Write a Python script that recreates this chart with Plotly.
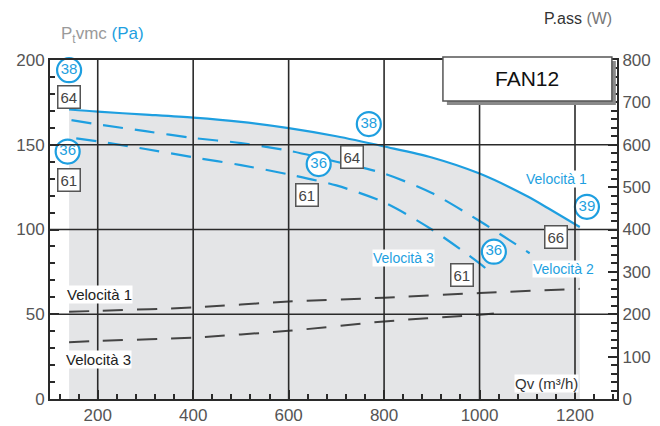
import plotly.graph_objects as go

# ---- data ----
qv_v1 = [140, 200, 300, 400, 500, 600, 700, 800, 900, 1000, 1100, 1150, 1210]
pt_v1 = [170.8, 169.5, 167.8, 166, 163.5, 159.8, 155, 149, 142.5, 133, 119.6, 111.5, 101.5]
qv_v2 = [145, 200, 300, 400, 500, 600, 700, 800, 900, 1000, 1050, 1105]
pt_v2 = [164.5, 162, 158, 154, 151, 146.5, 140, 133, 121.5, 105, 96, 86]
qv_v3 = [155, 200, 300, 400, 500, 600, 700, 800, 900, 1000, 1030]
pt_v3 = [153.8, 152, 147.5, 142.6, 138, 132.5, 126, 116, 100, 80, 73]
qv_p1 = [140, 200, 400, 600, 800, 1000, 1210]
w_p1 = [206, 208, 216, 230, 239, 250, 260]
qv_p3 = [140, 200, 400, 600, 800, 1000, 1030]
w_p3 = [134, 137, 145, 161, 183, 199, 202]

x_ticks = [200, 400, 600, 800, 1000, 1200]
y_ticks = [0, 50, 100, 150, 200]
y2_ticks = [0, 100, 200, 300, 400, 500, 600, 700, 800]

noise_circle_vals = ["38", "36", "38", "36", "36", "39"]
noise_circle_x = [140, 137, 768, 663, 1030, 1225]
noise_circle_y = [194, 146, 162.2, 138.6, 86.9, 113.4]
power_box_vals = ["64", "61", "64", "61", "61", "66"]
power_box_x = [140, 140, 733, 639, 964, 1161]
power_box_y = [178.3, 129.2, 142.6, 120.4, 73.2, 95.4]

BLUE = "#1e9fe0"
GRID = "#2a2a2a"
FONT = "Liberation Sans, Arial, sans-serif"

fig = go.Figure()

# shaded area under velocity 1 + solid line
fig.add_trace(go.Scatter(x=qv_v1, y=pt_v1, mode="lines", fill="tozeroy",
                         fillcolor="#e4e5e7",
                         line=dict(color=BLUE, width=2.2, shape="spline", smoothing=0.8),
                         hoverinfo="skip"))
fig.add_trace(go.Scatter(x=qv_v2, y=pt_v2, mode="lines",
                         line=dict(color=BLUE, width=2.2, dash="20px,12px",
                                   shape="spline", smoothing=0.8)))
fig.add_trace(go.Scatter(x=qv_v3, y=pt_v3, mode="lines",
                         line=dict(color=BLUE, width=2.2, dash="20px,12px",
                                   shape="spline", smoothing=0.8)))
fig.add_trace(go.Scatter(x=qv_p1, y=w_p1, mode="lines", yaxis="y2",
                         line=dict(color="#444444", width=2, dash="20px,14px",
                                   shape="spline", smoothing=0.8)))
fig.add_trace(go.Scatter(x=qv_p3, y=w_p3, mode="lines", yaxis="y2",
                         line=dict(color="#444444", width=2, dash="20px,14px",
                                   shape="spline", smoothing=0.8)))

# grid lines drawn above the shaded area
for xv in x_ticks:
    fig.add_shape(type="line", xref="x", yref="y", x0=xv, x1=xv, y0=0, y1=200,
                  line=dict(color=GRID, width=1.6), layer="above")
for yv in [50, 100, 150]:
    fig.add_shape(type="line", xref="x", yref="y", x0=100, x1=1288, y0=yv, y1=yv,
                  line=dict(color=GRID, width=1.6), layer="above")

# FAN12 box with shadow
fig.add_shape(type="rect", xref="paper", yref="paper", x0=0.700, x1=0.998,
              y0=0.867, y1=0.997, fillcolor="#8a8a8a", line=dict(width=0), layer="above")
fig.add_shape(type="rect", xref="paper", yref="paper", x0=0.693, x1=0.991,
              y0=0.879, y1=1.009, fillcolor="white",
              line=dict(color="#555555", width=1.5), layer="above")

# noise circles
fig.add_trace(go.Scatter(x=noise_circle_x, y=noise_circle_y, mode="markers+text",
                         text=noise_circle_vals, textposition="middle center",
                         textfont=dict(color=BLUE, size=15, family=FONT),
                         marker=dict(size=24, color="white",
                                     line=dict(color=BLUE, width=2.2)),
                         cliponaxis=False))

annotations = []
for v, xv, yv in zip(power_box_vals, power_box_x, power_box_y):
    annotations.append(dict(x=xv, y=yv, xref="x", yref="y", text=v, showarrow=False,
                            font=dict(size=15, color="#444444", family=FONT),
                            bgcolor="white", bordercolor="#555555", borderwidth=1.5,
                            borderpad=2))

def lab(text, x, y, color, size=14, xref="x", yref="y", xanchor="center", bg="white"):
    d = dict(x=x, y=y, xref=xref, yref=yref, text=text, showarrow=False,
             xanchor=xanchor, yanchor="middle",
             font=dict(size=size, color=color, family=FONT), borderpad=0)
    if bg:
        d["bgcolor"] = bg
    return d

annotations += [
    lab("Velocità 1", 1162, 130, BLUE, 14),
    lab("Velocità 3", 841, 83, BLUE, 14),
    lab("Velocità 2", 1175, 76.7, BLUE, 14),
    lab("Velocità 1", 203, 61.8, "#222222", 15),
    lab("Velocità 3", 202, 23.6, "#222222", 15),
    lab("Qv (m³/h)", 0.818, 0.047, "#333333", 15, "paper", "paper", "left"),
    lab("FAN12", 0.842, 0.944, "#111111", 21, "paper", "paper", "center", None),
    lab("P<sub>t</sub>vmc <span style='color:%s'>(Pa)</span>" % BLUE,
        0.018, 1.075, "#9a9a9a", 17, "paper", "paper", "left", None),
    lab("P.ass <span style='color:#777777'>(W)</span>", 0.869, 1.121, "#333333", 16,
        "paper", "paper", "left", None),
]

tickfont = dict(size=17, color="#555555", family=FONT)
# page body has an 8px margin, so the figure is 652x418 to fill the 660x426 window
fig.update_layout(
    width=652, height=418,
    margin=dict(l=42, r=43, t=52, b=27, autoexpand=False),
    paper_bgcolor="white", plot_bgcolor="white",
    showlegend=False,
    font=dict(family=FONT),
    annotations=annotations,
    xaxis=dict(range=[100, 1288], tickvals=x_ticks, showgrid=False, zeroline=False,
               automargin=False,
               showline=True, linecolor=GRID, linewidth=2, mirror=True,
               ticks="inside", ticklen=9, tickwidth=2, tickcolor=GRID,
               minor=dict(dtick=40, tick0=0, ticks="inside", ticklen=5,
                          tickwidth=1.5, tickcolor=GRID),
               tickfont=tickfont),
    yaxis=dict(range=[0, 200], tickvals=y_ticks, showgrid=False, zeroline=False,
               automargin=False,
               showline=True, linecolor=GRID, linewidth=2,
               ticks="inside", ticklen=9, tickwidth=2, tickcolor=GRID,
               minor=dict(dtick=10, tick0=0, ticks="inside", ticklen=5,
                          tickwidth=1.5, tickcolor=GRID),
               tickfont=tickfont),
    yaxis2=dict(range=[0, 800], tickvals=y2_ticks, overlaying="y", side="right",
                automargin=False,
                showgrid=False, zeroline=False, showline=True, linecolor=GRID,
                linewidth=2, ticks="inside", ticklen=9, tickwidth=2, tickcolor=GRID,
                minor=dict(dtick=20, tick0=0, ticks="inside", ticklen=6,
                           tickwidth=1.5, tickcolor=GRID),
                tickfont=tickfont),
)

fig.write_html("out.html")
